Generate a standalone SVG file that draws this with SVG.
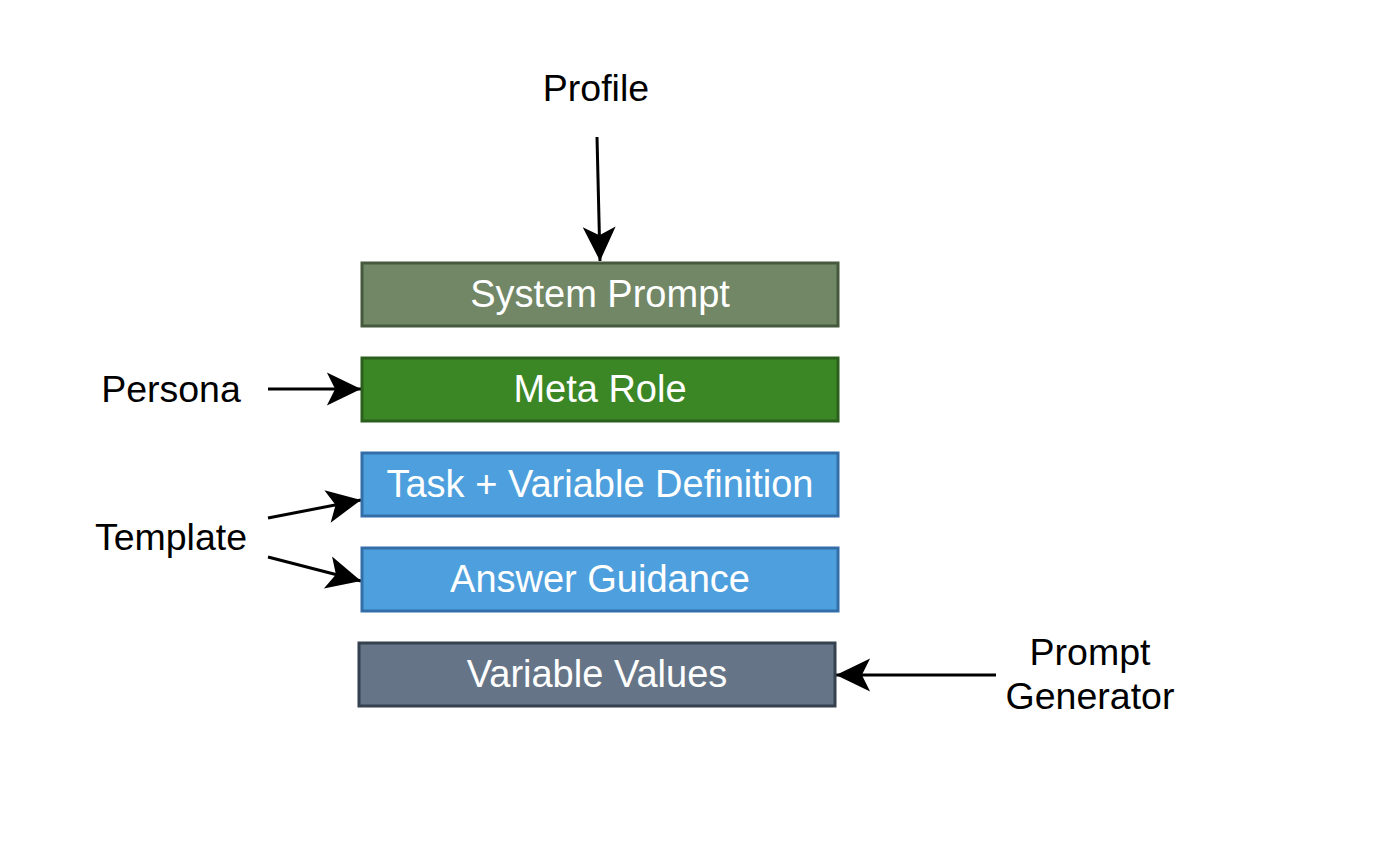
<svg xmlns="http://www.w3.org/2000/svg" width="1384" height="848" viewBox="0 0 1384 848">
<style>
text { font-family: "Liberation Sans", Arial, Helvetica, sans-serif; font-size: 37.5px; text-anchor: middle; }
.lbl { fill: #000000; }
.boxtxt { fill: #ffffff; font-size: 38px; }
.box { stroke-width: 3; }
.edge { stroke: #000000; stroke-width: 3; fill: none; }
</style>
<defs>
<marker id="arrow" markerUnits="userSpaceOnUse" markerWidth="40" markerHeight="40" viewBox="-32 -16 34 32" refX="0" refY="0" orient="auto">
<path d="M0,0 L-29,-14 L-22,0 L-29,14 Z" fill="#000000"/>
</marker>
</defs>
<rect width="1384" height="848" fill="#ffffff"/>
<g id="connectors">
<path class="edge" d="M597,137 L600,261" marker-end="url(#arrow)"/>
<path class="edge" d="M268,389 L361,389" marker-end="url(#arrow)"/>
<path class="edge" d="M268,518 L361,500" marker-end="url(#arrow)"/>
<path class="edge" d="M268,557 L361,581" marker-end="url(#arrow)"/>
<path class="edge" d="M996,675 L836,675" marker-end="url(#arrow)"/>
</g>
<g id="system-prompt">
<rect class="box" x="362" y="263" width="476" height="63" fill="#718766" stroke="#46593d"/>
<text class="boxtxt" x="600" y="307">System Prompt</text>
</g>
<g id="meta-role">
<rect class="box" x="362" y="358" width="476" height="63" fill="#3c8725" stroke="#2b5f1d"/>
<text class="boxtxt" x="600" y="402">Meta Role</text>
</g>
<g id="task-variable-definition">
<rect class="box" x="362" y="453" width="476" height="63" fill="#4e9fdd" stroke="#336ea9"/>
<text class="boxtxt" x="600" y="497">Task + Variable Definition</text>
</g>
<g id="answer-guidance">
<rect class="box" x="362" y="548" width="476" height="63" fill="#4e9fdd" stroke="#336ea9"/>
<text class="boxtxt" x="600" y="592">Answer Guidance</text>
</g>
<g id="variable-values">
<rect class="box" x="359" y="643" width="476" height="63" fill="#657587" stroke="#35414f"/>
<text class="boxtxt" x="597" y="687">Variable Values</text>
</g>
<g id="profile">
<text class="lbl" x="596" y="101">Profile</text>
</g>
<g id="persona">
<text class="lbl" x="171" y="402">Persona</text>
</g>
<g id="template">
<text class="lbl" x="171" y="550">Template</text>
</g>
<g id="prompt-generator">
<text class="lbl" x="1090" y="665">Prompt</text>
<text class="lbl" x="1090" y="709">Generator</text>
</g>
</svg>
